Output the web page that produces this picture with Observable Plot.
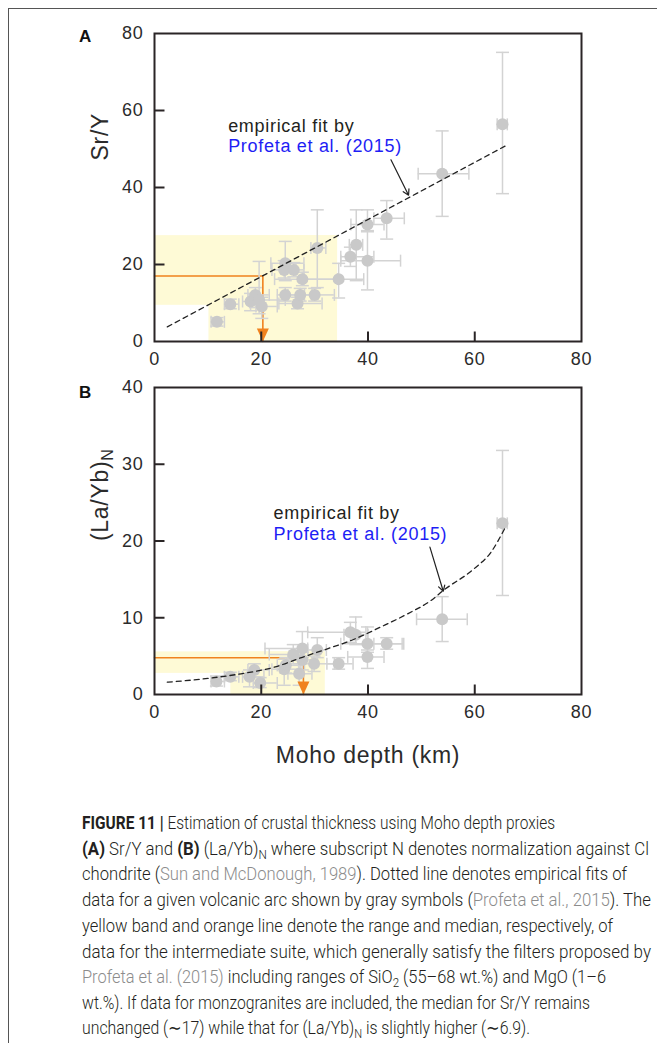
<!DOCTYPE html>
<html><head><meta charset="utf-8">
<script src="https://cdn.jsdelivr.net/npm/d3@7"></script>
<script src="https://cdn.jsdelivr.net/npm/@observablehq/plot@0.6"></script>
<style>
html,body{margin:0;padding:0;background:#fff;width:657px;height:1043px;overflow:hidden;}
#page{position:relative;width:657px;height:1043px;overflow:hidden;}
#border{position:absolute;left:8px;top:8px;width:720px;height:1100px;border:1px solid #555;box-sizing:border-box;}
#plotA{position:absolute;left:0;top:0;}
#plotB{position:absolute;left:0;top:375px;}
.cl{position:absolute;left:82px;white-space:nowrap;transform-origin:0 50%;font-family:"Liberation Sans Narrow","Roboto","Liberation Sans",sans-serif;font-weight:300;font-size:17.5px;line-height:20px;height:20px;color:#231f20;}
.cl b{font-weight:700;}
.cl sub{font-size:0.7em;vertical-align:-0.3em;line-height:0;}
.g{color:#8c8c8c;}
</style></head><body>
<div id="page"><div id="border"></div><div id="plotA"></div><div id="plotB"></div></div>
<script>
// ---------- data ----------
const xTicks = [0, 20, 40, 60, 80];
const yTicksA = [0, 20, 40, 60, 80];
const yTicksB = [0, 10, 20, 30, 40];
const innerX = [20, 40, 60];
const innerA = [20, 40, 60];
const innerB = [10, 20, 30];

// Panel A: Sr/Y vs Moho depth
const mohoA   = [11.7,14.2,18.0,18.9,19.6,20.1,24.5,24.5,24.3,26.1,26.8,27.3,27.7,30.0,30.5,34.5,36.7,37.8,39.9,39.9,43.5,53.9,65.2];
const srY     = [5.1,9.7,10.4,12.1,10.8,9.1,12.1,20.3,18.6,18.6,9.9,12.1,16.2,12.1,24.3,16.2,22.0,25.1,30.4,21.0,32.0,43.6,56.4];
const mohoALo = [10.6,13.1,16.5,17.5,17.8,19.0,23.0,21.8,22.0,24.5,23.3,25.0,22.5,28.1,29.3,28.0,34.9,36.5,36.8,34.9,41.1,49.4,64.2];
const mohoAHi = [13.1,15.8,20.0,21.5,24.5,23.0,27.4,28.0,26.5,28.0,31.4,29.5,34.3,33.7,32.1,39.2,41.1,39.0,43.0,46.1,46.8,58.9,66.1];
const srYLo   = [4.0,8.5,8.0,8.8,7.2,6.0,10.5,15.8,16.5,16.8,8.5,10.5,14.5,10.5,14.0,11.3,19.5,15.8,28.5,13.4,26.6,32.5,38.4];
const srYHi   = [6.2,11.0,12.5,14.0,20.8,11.5,14.0,26.0,21.0,20.5,11.5,13.8,18.0,13.8,34.2,20.3,24.5,34.2,34.2,28.8,36.6,54.7,75.1];
const fitAx = [2.4, 65.9];
const fitAy = [3.8, 50.9];
const bandAx = [10.2, 34.3];   // Moho range
const bandAy = [9.4, 27.5];    // Sr/Y range
const medianA = 17.0;
const mohoEstA = 20.3;
const arrowA = [44.3, 47.2, 47.6, 38.0];
const annA = {x: 13.8, y1: 55.9, y2: 50.6};

// Panel B: (La/Yb)N vs Moho depth
const mohoB   = [11.6,14.2,17.8,18.7,19.8,24.3,24.6,26.0,27.1,27.7,27.7,29.9,30.5,34.5,36.7,37.7,39.9,39.9,43.5,53.9,65.2];
const laYb    = [1.7,2.3,2.3,3.2,1.5,3.3,3.8,5.2,2.7,6.0,4.5,4.0,5.8,4.0,8.1,7.8,6.6,4.9,6.6,9.8,22.3];
const mohoBLo = [10.6,13.1,16.5,17.5,18.5,22.0,23.0,21.5,25.0,20.7,25.0,28.1,28.7,32.3,28.7,35.5,34.9,36.2,41.1,49.1,64.2];
const mohoBHi = [13.1,15.8,20.5,21.5,23.0,27.0,27.4,28.0,29.5,28.7,30.5,33.7,32.2,37.2,39.6,40.0,46.7,43.0,46.4,58.6,66.1];
const laYbLo  = [1.1,1.8,1.0,2.3,0.9,1.2,2.8,4.0,1.2,4.8,3.2,3.0,4.8,3.3,6.8,6.5,5.5,3.4,5.9,6.9,12.9];
const laYbHi  = [2.4,2.9,3.2,4.0,2.2,4.6,4.8,6.5,4.0,8.2,5.5,5.0,7.4,4.8,9.4,10.1,8.8,5.8,7.4,12.75,31.8];
const fitBx = [2.4,10.0,16.2,22.4,27.7,32.4,37.4,42.4,47.4,51.7,54.2,59.9,63.0,65.6];
const fitBy = [1.6,2.1,2.7,3.55,4.85,5.95,7.2,8.8,10.5,12.2,13.6,16.4,18.5,21.6];
const bandBx = [14.3, 32.0];
const bandBy = [2.75, 5.55];
const medianB = 4.78;
const mohoEstB = 27.9;
const arrowB = [51.6, 19.2, 54.1, 13.45];
const annB = {x: 22.3, y1: 23.6, y2: 20.9};

// ---------- styles ----------
const ink = "#2a2526";
const yellow = "#fefad6";
const orange = "#f0821e";
const gray = "#c9c9c9";
const barGray = "#d3d3d3";
const blue = "#1e1ef5";
const font = "'Liberation Sans', Arial, sans-serif";

const tickUp = {draw(c){c.moveTo(0,0);c.lineTo(0,-10);}};
const tickRight = {draw(c){c.moveTo(0,0);c.lineTo(10,0);}};
const capH = {draw(c){c.moveTo(-6.5,0);c.lineTo(6.5,0);}};
const capV = {draw(c){c.moveTo(0,-6);c.lineTo(0,6);}};
const triDown = {draw(c){c.moveTo(-6,-13);c.lineTo(6,-13);c.lineTo(0,0);c.closePath();}};

function errorMarks(xs, ys, xlo, xhi, ylo, yhi) {
  const idx = d3.range(xs.length);
  const s = {stroke: barGray, strokeWidth: 1.5};
  return [
    Plot.ruleX(idx, {x: i => xs[i], y1: i => ylo[i], y2: i => yhi[i], ...s}),
    Plot.ruleY(idx, {y: i => ys[i], x1: i => xlo[i], x2: i => xhi[i], ...s}),
    Plot.dot(idx, {x: i => xs[i], y: i => ylo[i], symbol: capH, fill: "none", ...s}),
    Plot.dot(idx, {x: i => xs[i], y: i => yhi[i], symbol: capH, fill: "none", ...s}),
    Plot.dot(idx, {x: i => xlo[i], y: i => ys[i], symbol: capV, fill: "none", ...s}),
    Plot.dot(idx, {x: i => xhi[i], y: i => ys[i], symbol: capV, fill: "none", ...s}),
    Plot.dot(idx, {x: i => xs[i], y: i => ys[i], r: 6, fill: gray, stroke: "none"})
  ];
}

function axisMarks(yTicks, innerY) {
  return [
    Plot.axisX({ticks: xTicks, tickSize: 0, tickPadding: 11, fontSize: 18, label: null, fill: "#2b2b2b"}),
    Plot.axisY({ticks: yTicks, tickSize: 0, tickPadding: 11, fontSize: 18, label: null, fill: "#2b2b2b"}),
    Plot.dot(innerX, {x: d => d, frameAnchor: "bottom", symbol: tickUp, stroke: ink, strokeWidth: 2, fill: "none"}),
    Plot.dot(innerY, {y: d => d, frameAnchor: "left", symbol: tickRight, stroke: ink, strokeWidth: 2, fill: "none"}),
    Plot.frame({stroke: ink, strokeWidth: 2})
  ];
}

function bandRects(bx, by) {
  return [
    {x1: 0, x2: bx[1], y1: by[0], y2: by[1]},
    {x1: bx[0], x2: bx[1], y1: 0, y2: by[1]}
  ];
}

const baseStyle = {fontFamily: font, fontSize: "18px", color: "#2b2b2b", background: "transparent", overflow: "visible", letterSpacing: "0.7px"};

// ---------- Panel A ----------
const plotA = Plot.plot({
  width: 657, height: 375,
  marginLeft: 154, marginRight: 76, marginTop: 33, marginBottom: 34,
  x: {domain: [0, 80], label: null},
  y: {domain: [0, 80], label: null},
  style: baseStyle,
  marks: [
    Plot.rect(bandRects(bandAx, bandAy), {x1: "x1", x2: "x2", y1: "y1", y2: "y2", fill: yellow}),
    Plot.line([[0, medianA], [mohoEstA, medianA], [mohoEstA, 0]], {stroke: orange, strokeWidth: 1.6}),
    ...errorMarks(mohoA, srY, mohoALo, mohoAHi, srYLo, srYHi),
    Plot.dot([[mohoEstA, 0]], {symbol: triDown, fill: orange, stroke: "none"}),
    Plot.line(fitAx.map((x, i) => [x, fitAy[i]]), {stroke: "#222", strokeWidth: 1.3, strokeDasharray: "5,4"}),
    Plot.arrow([arrowA], {x1: d => d[0], y1: d => d[1], x2: d => d[2], y2: d => d[3], stroke: "#222", strokeWidth: 1.2, headLength: 8}),
    Plot.text(["empirical fit by"], {x: annA.x, y: annA.y1, textAnchor: "start", lineAnchor: "middle", fontSize: 18, fill: "#231f20"}),
    Plot.text(["Profeta et al. (2015)"], {x: annA.x, y: annA.y2, textAnchor: "start", lineAnchor: "middle", fontSize: 18, fill: blue}),
    ...axisMarks(yTicksA, innerA),
    Plot.text(["Sr/Y"], {frameAnchor: "left", dx: -54, dy: -27, rotate: -90, fontSize: 23, fill: "#2b2b2b"}),
    Plot.text(["A"], {frameAnchor: "top-left", dx: -69, dy: 3, fontSize: 17, fontWeight: "bold", fill: "#111", textAnchor: "middle", lineAnchor: "middle"})
  ]
});
document.getElementById("plotA").appendChild(plotA);

// ---------- Panel B ----------
const plotB = Plot.plot({
  width: 657, height: 405,
  marginLeft: 154, marginRight: 76, marginTop: 12, marginBottom: 86,
  x: {domain: [0, 80], label: null},
  y: {domain: [0, 40], label: null},
  style: baseStyle,
  marks: [
    Plot.rect(bandRects(bandBx, bandBy), {x1: "x1", x2: "x2", y1: "y1", y2: "y2", fill: yellow}),
    Plot.line([[0, medianB], [mohoEstB, medianB], [mohoEstB, 0]], {stroke: orange, strokeWidth: 1.6}),
    ...errorMarks(mohoB, laYb, mohoBLo, mohoBHi, laYbLo, laYbHi),
    Plot.dot([[mohoEstB, 0]], {symbol: triDown, fill: orange, stroke: "none"}),
    Plot.line(fitBx.map((x, i) => [x, fitBy[i]]), {stroke: "#222", strokeWidth: 1.3, strokeDasharray: "5,4", curve: "monotone-x"}),
    Plot.arrow([arrowB], {x1: d => d[0], y1: d => d[1], x2: d => d[2], y2: d => d[3], stroke: "#222", strokeWidth: 1.2, headLength: 8}),
    Plot.text(["empirical fit by"], {x: annB.x, y: annB.y1, textAnchor: "start", lineAnchor: "middle", fontSize: 18, fill: "#231f20"}),
    Plot.text(["Profeta et al. (2015)"], {x: annB.x, y: annB.y2, textAnchor: "start", lineAnchor: "middle", fontSize: 18, fill: blue}),
    ...axisMarks(yTicksB, innerB),
    Plot.text(["(La/Yb)N"], {frameAnchor: "left", dx: -54, rotate: -90, fontSize: 23, fill: "#2b2b2b"}),
    Plot.text(["Moho depth (km)"], {frameAnchor: "bottom", dy: 61, fontSize: 23, fill: "#2b2b2b", lineAnchor: "middle"}),
    Plot.text(["B"], {frameAnchor: "top-left", dx: -69, dy: 5.5, fontSize: 17, fontWeight: "bold", fill: "#111", textAnchor: "middle", lineAnchor: "middle"})
  ]
});
document.getElementById("plotB").appendChild(plotB);
d3.select(plotB).selectAll("text").filter(function(){ return this.textContent === "(La/Yb)N"; }).each(function(){
  const t = d3.select(this);
  t.text("(La/Yb)");
  t.append("tspan").attr("dy", "0.35em").attr("font-size", "16px").text("N");
});

// ---------- Caption ----------
const captionLines = [
  '<b>FIGURE 11 |</b> Estimation of crustal thickness using Moho depth proxies',
  '<b>(A)</b> Sr/Y and <b>(B)</b> (La/Yb)<sub>N</sub> where subscript N denotes normalization against Cl',
  'chondrite (<span class="g">Sun and McDonough, 1989</span>). Dotted line denotes empirical fits of',
  'data for a given volcanic arc shown by gray symbols (<span class="g">Profeta et al., 2015</span>). The',
  'yellow band and orange line denote the range and median, respectively, of',
  'data for the intermediate suite, which generally satisfy the filters proposed by',
  '<span class="g">Profeta et al. (2015)</span> including ranges of SiO<sub>2</sub> (55–68 wt.%) and MgO (1–6',
  'wt.%). If data for monzogranites are included, the median for Sr/Y remains',
  'unchanged (∼17) while that for (La/Yb)<sub>N</sub> is slightly higher (∼6.9).'
];
const captionRight = [555, 649, 627, 651, 613, 651, 606, 590, 530];
const captionY = [823, 848.5, 874, 900, 925.5, 951.5, 977, 1002.5, 1028];
const page = document.getElementById("page");
captionLines.forEach((html, i) => {
  const div = document.createElement("div");
  div.className = "cl";
  div.innerHTML = html;
  div.style.top = (captionY[i] - 10) + "px";
  page.appendChild(div);
  const w = div.getBoundingClientRect().width;
  const s = (captionRight[i] - 82) / w;
  div.style.transform = `scaleX(${s})`;
});
</script>
</body></html>
